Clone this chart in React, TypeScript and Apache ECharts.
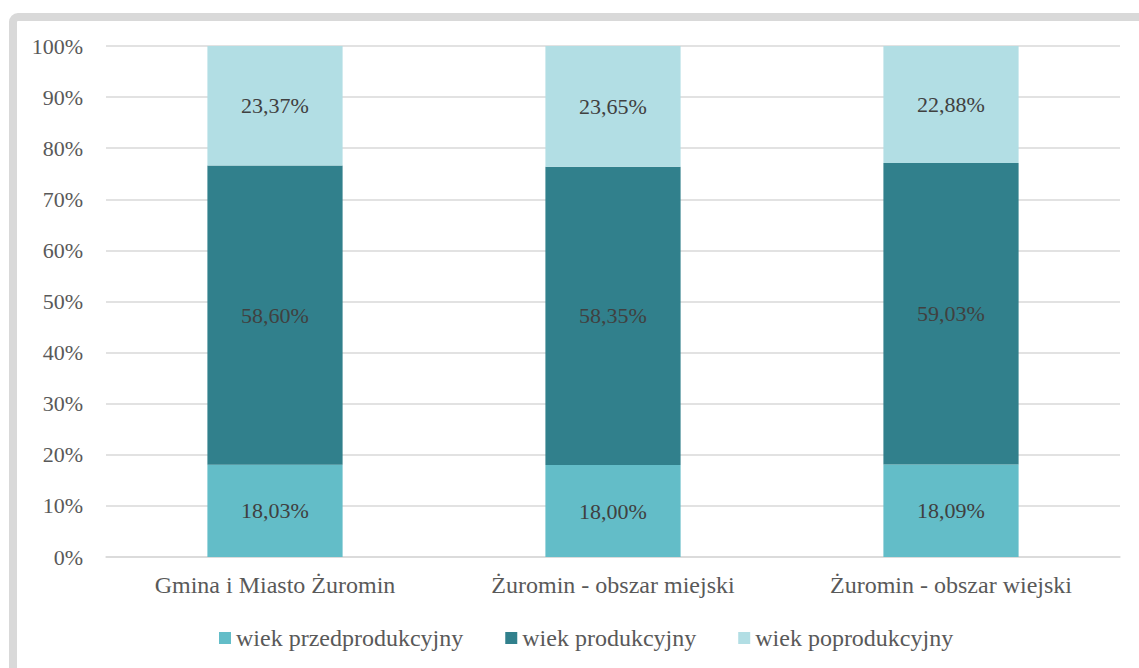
import React, { useEffect, useRef } from "react";
import * as echarts from "echarts";

const categories = ["Gmina i Miasto Żuromin", "Żuromin - obszar miejski", "Żuromin - obszar wiejski"];
const seriesNames = ["wiek przedprodukcyjny", "wiek produkcyjny", "wiek poprodukcyjny"];
const przed = [18.03, 18.0, 18.09];
const prod = [58.6, 58.35, 59.03];
const popr = [23.37, 23.65, 22.88];
const colors = ["#63bdc8", "#31808c", "#b2dee4"];

const FONT = "Liberation Serif";

export default function App() {
  const ref = useRef<HTMLDivElement>(null);
  useEffect(() => {
    const chart = echarts.init(ref.current!, null, { renderer: "svg" });
    const mk = (name: string, data: number[], i: number) => ({
      name,
      type: "bar",
      stack: "total",
      barWidth: "40%",
      data,
      itemStyle: { color: colors[i] },
      label: {
        show: true,
        position: "inside",
        color: "#404040",
        fontFamily: FONT,
        fontSize: 22,
        formatter: (p: any) => p.value.toFixed(2).replace(".", ",") + "%",
      },
    });
    chart.setOption({
      animation: false,
      textStyle: { fontFamily: FONT },
      graphic: [
        {
          type: "rect",
          shape: { x: 13, y: 17, width: 1200, height: 720, r: 5 },
          style: { fill: "none", stroke: "#d9d9d9", lineWidth: 8 },
          silent: true,
        },
      ],
      legend: {
        top: 621,
        left: 214,
        itemWidth: 12,
        itemHeight: 12,
        itemGap: 42,
        icon: "rect",
        textStyle: { color: "#595959", fontSize: 24, fontFamily: FONT },
        data: seriesNames,
      },
      grid: { left: 106, right: 19, top: 46, bottom: 111 },
      xAxis: {
        type: "category",
        data: categories,
        axisLine: { show: true, lineStyle: { color: "#d9d9d9", width: 1.5 } },
        axisTick: { show: false },
        axisLabel: { color: "#595959", fontSize: 24, fontFamily: FONT, margin: 16 },
      },
      yAxis: {
        type: "value",
        min: 0,
        max: 100,
        interval: 10,
        axisLine: { show: false },
        axisTick: { show: false },
        splitLine: { lineStyle: { color: "#d9d9d9", width: 1.5 } },
        axisLabel: { color: "#595959", fontSize: 22, fontFamily: FONT, margin: 23, formatter: "{value}%" },
      },
      series: [mk(seriesNames[0], przed, 0), mk(seriesNames[1], prod, 1), mk(seriesNames[2], popr, 2)],
    });
    return () => chart.dispose();
  }, []);
  return (
    <div
      ref={ref}
      style={{ position: "fixed", left: 0, top: 0, width: 1139, height: 668, background: "#fff" }}
    />
  );
}
